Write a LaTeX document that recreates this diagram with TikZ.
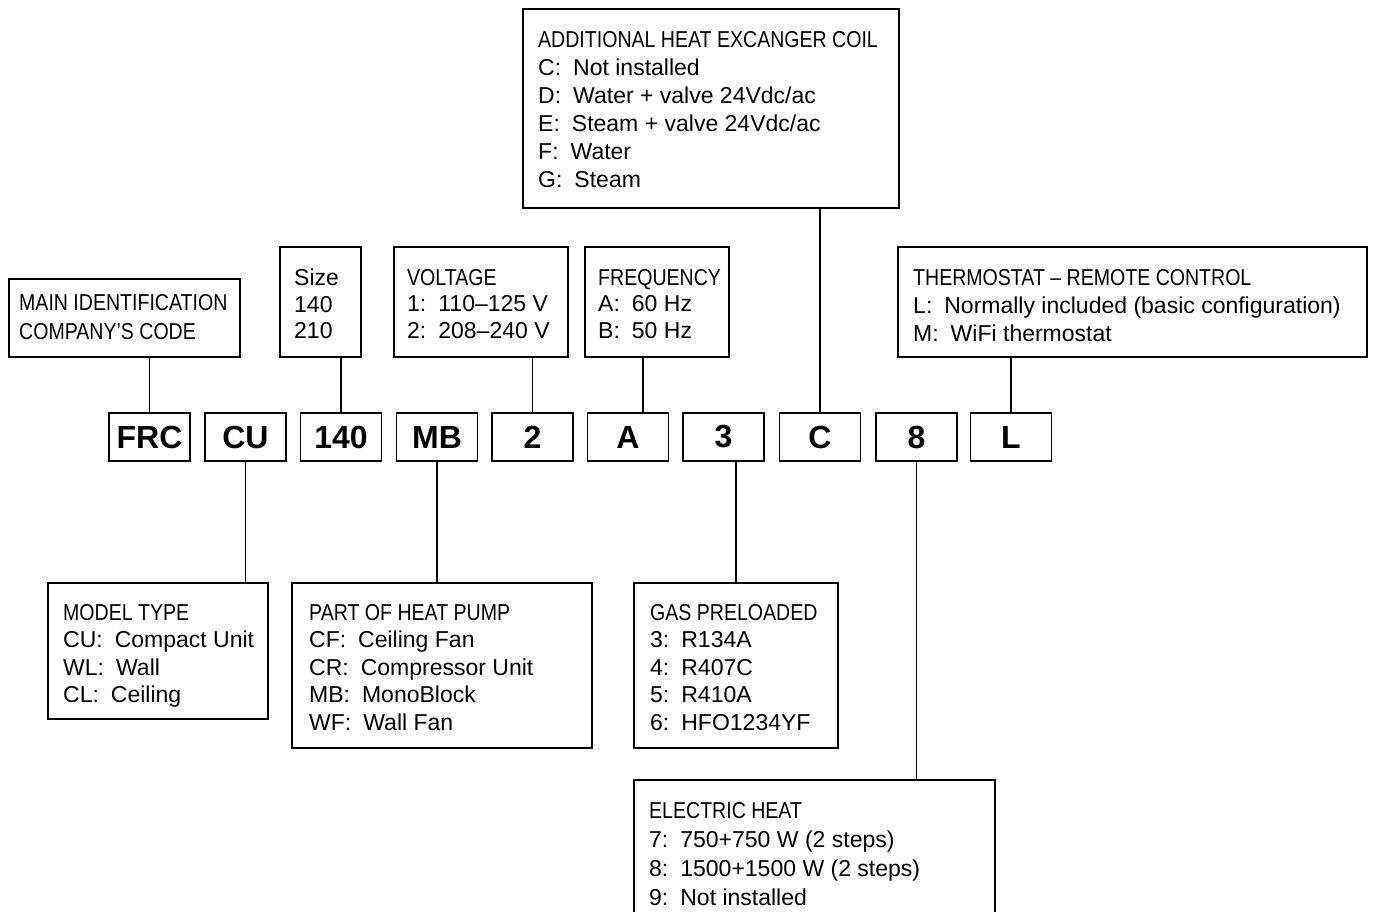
\documentclass[tikz,border=0pt]{standalone}
\usepackage{fontspec}
\setmainfont{Liberation Sans}
\newfontfamily\hfont[FakeStretch=0.85,Ligatures=TeX]{Liberation Sans}
\newcommand\gp{\hspace{12pt}}
\begin{document}
\begin{tikzpicture}[x=1pt,y=-1pt,
  box/.style={draw, line width=1.8pt, anchor=north west, inner sep=0pt},
  code/.style={draw, line width=1.8pt, inner sep=0pt, minimum width=81pt, minimum height=48pt, font=\fontsize{32}{32}\selectfont\bfseries},
  txt/.style={anchor=north west, inner sep=0pt, align=left, font=\fontsize{23}{27.5}\selectfont},
  link/.style={line width=1.8pt}]
\clip (0,0) rectangle (1373,912);
% code boxes
\node[code] (frc) at (149.5,437) {FRC};
\node[code] (cu)  at (245.5,437) {CU};
\node[code] (c140) at (341,437) {140};
\node[code] (mb)  at (437,437) {MB};
\node[code] (c2)  at (532.5,437) {2};
\node[code] (ca)  at (628,437) {A};
\node[code] (c3)  at (723.5,437) {3};
\node[code] (cc)  at (820,437) {C};
\node[code] (c8)  at (916.5,437) {8};
\node[code] (cl)  at (1011,437) {L};
% info boxes
\node[box, minimum width=231pt, minimum height=78pt]  (main)  at (8,278) {};
\node[box, minimum width=81pt,  minimum height=110pt] (size)  at (279,246) {};
\node[box, minimum width=174pt, minimum height=110pt] (volt)  at (393,246) {};
\node[box, minimum width=144pt, minimum height=110pt] (freq)  at (584,246) {};
\node[box, minimum width=376pt, minimum height=199pt] (add)   at (522,8) {};
\node[box, minimum width=469pt, minimum height=110pt] (therm) at (897,246) {};
\node[box, minimum width=220pt, minimum height=136pt] (model) at (47,582) {};
\node[box, minimum width=300pt, minimum height=165pt] (part)  at (291,582) {};
\node[box, minimum width=204pt, minimum height=165pt] (gas)   at (633,582) {};
\node[box, minimum width=361pt, minimum height=180pt] (elec)  at (633,779) {};
% texts
\node[txt, font=\fontsize{23}{29}\hfont] (tmain) at (19,294) {MAIN IDENTIFICATION\\COMPANY'S CODE};
\node[txt, font=\fontsize{23}{26.5}\selectfont] (tsize) at (294,269) {Size\\140\\210};
\node[txt, font=\fontsize{23}{26.5}\selectfont] (tvolt) at (407,269) {{\hfont VOLTAGE}\\1:\gp 110--125 V\\2:\gp 208--240 V};
\node[txt, font=\fontsize{23}{26.5}\selectfont] (tfreq) at (598,269) {{\hfont FREQUENCY}\\A:\gp 60 Hz\\B:\gp 50 Hz};
\node[txt, font=\fontsize{23}{28}\selectfont] (tadd) at (538,31) {{\hfont ADDITIONAL HEAT EXCANGER COIL}\\C:\gp Not installed\\D:\gp Water + valve 24Vdc/ac\\E:\gp Steam + valve 24Vdc/ac\\F:\gp Water\\G:\gp Steam};
\node[txt, font=\fontsize{23}{28}\selectfont] (ttherm) at (913,269) {{\hfont THERMOSTAT \textendash{} REMOTE CONTROL}\\L:\gp Normally included (basic configuration)\\M:\gp WiFi thermostat};
\node[txt] (tmodel) at (63,604) {{\hfont MODEL TYPE}\\CU:\gp Compact Unit\\WL:\gp Wall\\CL:\gp Ceiling};
\node[txt] (tpart) at (309,604) {{\hfont PART OF HEAT PUMP}\\CF:\gp Ceiling Fan\\CR:\gp Compressor Unit\\MB:\gp MonoBlock\\WF:\gp Wall Fan};
\node[txt] (tgas) at (650,604) {{\hfont GAS PRELOADED}\\3:\gp R134A\\4:\gp R407C\\5:\gp R410A\\6:\gp HFO1234YF};
\node[txt, font=\fontsize{23}{29}\selectfont] (telec) at (649,802) {{\hfont ELECTRIC HEAT}\\7:\gp 750+750 W (2 steps)\\8:\gp 1500+1500 W (2 steps)\\9:\gp Not installed};
% connectors
\draw[link] (frc.north) -- (frc.north |- main.south);
\draw[link] (c140.north) -- (c140.north |- size.south);
\draw[link] (c2.north) -- (c2.north |- volt.south);
\draw[link] ([xshift=15pt]ca.north) -- ([xshift=15pt]ca.north |- freq.south);
\draw[link] (cc.north) -- (cc.north |- add.south);
\draw[link] (cl.north) -- (cl.north |- therm.south);
\draw[link] (cu.south) -- (cu.south |- model.north);
\draw[link] (mb.south) -- (mb.south |- part.north);
\draw[link] (gas.north) -- (gas.north |- c3.south);
\draw[link] (c8.south) -- (c8.south |- elec.north);
\end{tikzpicture}
\end{document}
